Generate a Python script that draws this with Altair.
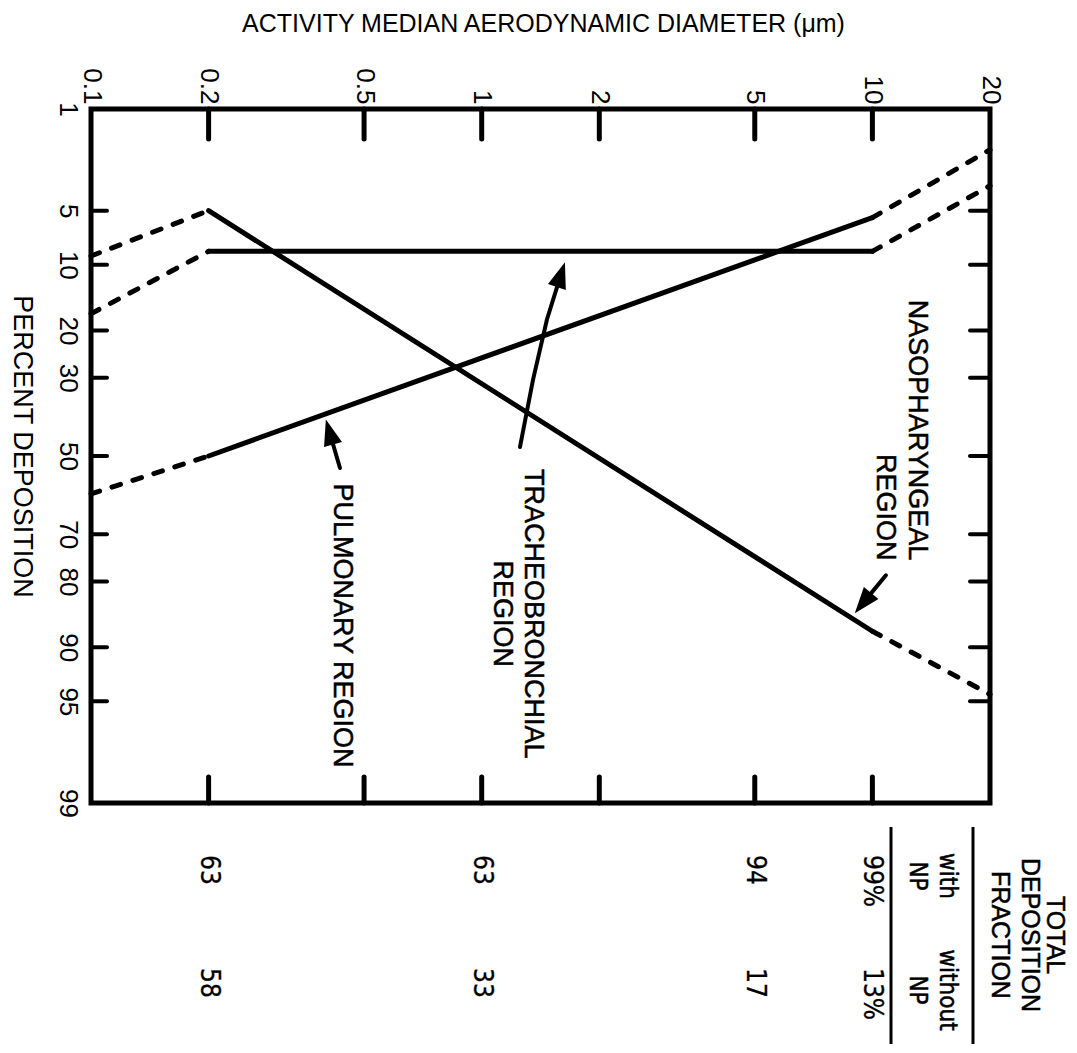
import altair as alt
import pandas as pd
from statistics import NormalDist

# ---------------- data ----------------
diam = [0.1, 0.2, 10, 20]              # break points of the curves (um)
np_pct = [9, 5, 88, 94.5]              # nasopharyngeal region
tb_pct = [17, 8.5, 8.5, 3.5]           # tracheobronchial region
pul_pct = [60, 50, 5.5, 2]             # pulmonary region

x_ticks = [0.1, 0.2, 0.5, 1, 2, 5, 10, 20]
inner_x_ticks = [0.2, 0.5, 1, 2, 5, 10]
y_ticks = [1, 5, 10, 20, 30, 50, 70, 80, 90, 95, 99]
inner_y_ticks = [5, 10, 20, 30, 50, 70, 80, 90, 95]

table_diam = [0.2, 1, 5, 10]
with_np = ["63", "63", "94", "99%"]
without_np = ["58", "33", "17", "13%"]

# annotation anchors (diameter, percent)
label_np = [("NASOPHARYNGEAL", 13.0, 75.8), ("REGION", 10.8, 75.8)]
label_center = [("TRACHEOBRONCHIAL", 1.353, 85.5), ("REGION", 1.127, 85.5),
                ("PULMONARY REGION", 0.439, 87.2)]
arrow_np = [(10.83, 78.8), (9.46, 83.8)]
arrow_tb = [(1.253, 47.6), (1.353, 30.5), (1.469, 18.0), (1.595, 11.2)]
arrow_pul = [(0.4338, 53.2), (0.4077, 43.6)]
heads = [(9.46, 83.8, 219), (1.595, 11.2, 18), (0.4077, 43.6, 344)]

W, H = 899, 694
FONT = "Liberation Sans, Arial, Helvetica, sans-serif"
NARROW = "Liberation Sans Narrow, Arial Narrow, DejaVu Sans Condensed, Liberation Sans, sans-serif"
TSTROKE = 0.5

nd = NormalDist()
ymin, ymax = nd.inv_cdf(0.01), nd.inv_cdf(0.99)
probit = "quantileNormal(datum.pct / 100)"

xscale = alt.Scale(type="log", domain=[0.1, 20], nice=False)
yscale = alt.Scale(domain=[ymin, ymax], reverse=True, nice=False, zero=False)

x_axis = alt.Axis(
    orient="top", values=x_ticks, format="~g", labelAngle=90, labelAlign="right",
    labelBaseline="middle", labelPadding=5, labelFontSize=26, labelFont=FONT,
    labelColor="black", ticks=False, domain=False, grid=False, labelFlush=False,
    labelOverlap=False, labelBound=False,
    title="ACTIVITY MEDIAN AERODYNAMIC DIAMETER (\u03bcm)", titleFont=FONT,
    titleFontSize=25, titleFontWeight="normal", titleColor="black",
    titleX=452, titleY=-78, titleAlign="center", titleBaseline="alphabetic", titleAngle=0,
)
y_axis = alt.Axis(
    orient="left", values=[nd.inv_cdf(p / 100) for p in y_ticks],
    labelExpr="format(round(cumulativeNormal(datum.value) * 100), 'd')",
    labelAngle=90, labelAlign="center", labelBaseline="middle", labelPadding=24,
    labelFontSize=26, labelFont=FONT, labelColor="black", ticks=False, domain=False,
    grid=False, labelFlush=False, labelOverlap=False, labelBound=False,
    title="PERCENT DEPOSITION", titleFont=FONT, titleFontSize=27,
    titleFontWeight="normal", titleColor="black", titleAngle=90,
    titleX=-70, titleY=337, titleAlign="center", titleBaseline="middle",
)

def X(field="d:Q"):
    return alt.X(field, scale=xscale, axis=x_axis)

def Y(field="z:Q"):
    return alt.Y(field, scale=yscale, axis=y_axis)

# ---------------- curves ----------------
rows = []
for name, vals in [("NP", np_pct), ("TB", tb_pct), ("P", pul_pct)]:
    for k, (a, b, style) in enumerate([(0, 1, "dashed"), (1, 2, "solid"), (2, 3, "dashed")]):
        for j in (a, b):
            rows.append(dict(region=name, seg=f"{name}{k}", style=style, d=diam[j], pct=vals[j]))
curves = pd.DataFrame(rows)

base = alt.Chart(curves).transform_calculate(z=probit)
solid = base.transform_filter(alt.datum.style == "solid").mark_line(
    color="black", strokeWidth=5, strokeCap="round"
).encode(x=X(), y=Y(), detail="seg:N")
dashed = base.transform_filter(alt.datum.style == "dashed").mark_line(
    color="black", strokeWidth=5, strokeCap="round", strokeDash=[9, 13]
).encode(x=X(), y=Y(), detail="seg:N")

# ---------------- inner ticks ----------------
xt = pd.DataFrame({"d": inner_x_ticks})
yt = pd.DataFrame({"pct": inner_y_ticks})
top_ticks = alt.Chart(xt).mark_rule(color="black", strokeWidth=5, strokeCap="round").encode(
    x=X(), y=alt.value(0), y2=alt.value(30))
bot_ticks = alt.Chart(xt).mark_rule(color="black", strokeWidth=5, strokeCap="round").encode(
    x=X(), y=alt.value(H - 26), y2=alt.value(H))
left_ticks = alt.Chart(yt).transform_calculate(z=probit).mark_rule(
    color="black", strokeWidth=4, strokeCap="round").encode(
    y=Y(), x=alt.value(0), x2=alt.value(16))
right_ticks = alt.Chart(yt).transform_calculate(z=probit).mark_rule(
    color="black", strokeWidth=4, strokeCap="round").encode(
    y=Y(), x=alt.value(W - 20), x2=alt.value(W))

# ---------------- annotations ----------------
def lab_df(items):
    return pd.DataFrame([dict(t=t, d=d, pct=p) for t, d, p in items])

lab_right = alt.Chart(lab_df(label_np)).transform_calculate(z=probit).mark_text(
    angle=90, align="right", baseline="middle", fontSize=27, font=FONT, color="black",
    stroke="black", strokeWidth=TSTROKE
).encode(x=X(), y=Y(), text="t:N")
lab_mid = alt.Chart(lab_df(label_center)).transform_calculate(z=probit).mark_text(
    angle=90, align="center", baseline="middle", fontSize=27, font=FONT, color="black",
    stroke="black", strokeWidth=TSTROKE
).encode(x=X(), y=Y(), text="t:N")

arows = []
for name, pts in [("np", arrow_np), ("tb", arrow_tb), ("p", arrow_pul)]:
    for i, (d, p) in enumerate(pts):
        arows.append(dict(a=name, i=i, d=d, pct=p))
shafts = alt.Chart(pd.DataFrame(arows)).transform_calculate(z=probit).mark_line(
    color="black", strokeWidth=4, strokeCap="round"
).encode(x=X(), y=Y(), detail="a:N", order="i:Q")
heads_df = pd.DataFrame([dict(d=d, pct=p, ang=a) for d, p, a in heads])
arrowheads = alt.Chart(heads_df).transform_calculate(z=probit).mark_point(
    shape="M0,-1L0.72,1L-0.72,1Z", filled=True, size=676, color="black", opacity=1, strokeWidth=0
).encode(x=X(), y=Y(), angle=alt.Angle("ang:Q", scale=None))

# ---------------- total deposition table ----------------
tab = pd.DataFrame({"d": table_diam, "w": with_np, "wo": without_np})
row1 = alt.Chart(tab).mark_text(angle=90, align="left", baseline="middle", fontSize=26,
                                font=NARROW, color="black", stroke="black",
                                strokeWidth=0.3).encode(
    x=X(), y=alt.value(746), text="w:N")
row2 = alt.Chart(tab).mark_text(angle=90, align="left", baseline="middle", fontSize=26,
                                font=NARROW, color="black", stroke="black",
                                strokeWidth=0.3).encode(
    x=X(), y=alt.value(859), text="wo:N")

header_items = [("TOTAL", 964, 826, 25, FONT), ("DEPOSITION", 939, 826, 25, FONT),
                ("FRACTION", 909, 826, 25, FONT), ("with", 856, 767, 24, NARROW),
                ("NP", 826, 767, 24, NARROW), ("without", 856, 881, 24, NARROW),
                ("NP", 826, 881, 24, NARROW)]
header_layers = []
for t, px, py, fs, fnt in header_items:
    header_layers.append(
        alt.Chart(pd.DataFrame({"t": [t]})).mark_text(
            angle=90, align="center", baseline="middle", fontSize=fs, font=fnt, color="black",
            stroke="black", strokeWidth=TSTROKE
        ).encode(text="t:N", x=alt.value(px), y=alt.value(py))
    )
rule_layers = []
for px in (800, 882):
    rule_layers.append(
        alt.Chart(pd.DataFrame({"a": [0]})).mark_rule(color="black", strokeWidth=3).encode(
            x=alt.value(px), y=alt.value(718), y2=alt.value(935))
    )

chart = alt.layer(
    solid, dashed, top_ticks, bot_ticks, left_ticks, right_ticks,
    shafts, arrowheads, lab_right, lab_mid, row1, row2, *header_layers, *rule_layers
).properties(
    width=W, height=H,
    padding={"left": 83, "top": 101, "right": 79, "bottom": 241},
    autosize=alt.AutoSizeParams(type="none"),
    background="white",
).configure_view(stroke="black", strokeWidth=5)

chart.save("out.html", embed_options={"renderer": "svg", "actions": False})
